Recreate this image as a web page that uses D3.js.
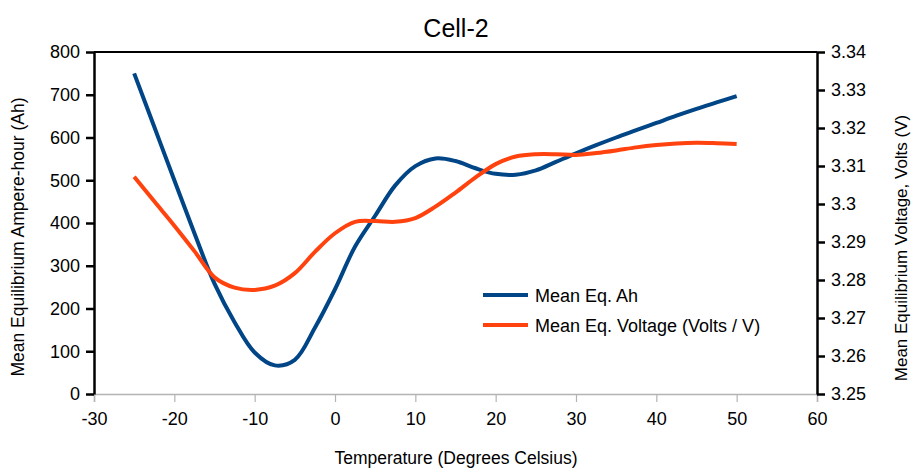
<!DOCTYPE html>
<html lang="en">
<head>
<meta charset="UTF-8">
<title>Cell-2</title>
<style>
  body { margin: 0; background: #fff; }
  svg { display: block; font-family: "Liberation Sans", Arial, sans-serif; }
</style>
</head>
<body>
<svg id="chart" width="912" height="469"></svg>
<script src="https://cdnjs.cloudflare.com/ajax/libs/d3/7.8.5/d3.min.js"></script>
<script>
// temperatures (deg C) and the two series
const temps  = [-25, -22.5, -20, -17.5, -15, -12.5, -10, -7.5, -5, -2.5, 0, 2.5, 5, 7.5, 10, 12.5,
                15, 17.5, 20, 22.5, 25, 27.5, 30, 32.5, 35, 37.5, 40, 42.5, 45, 47.5, 50];
const meanAh = [750, 625, 500, 376, 258, 168, 97, 67, 80, 155, 245, 345, 417, 488, 533, 551,
                545, 528, 515, 513, 523, 543, 563, 582, 600, 617, 634, 651, 667, 682, 697];
const meanV  = [3.3072, 3.3007, 3.2943, 3.2876, 3.2807, 3.2780, 3.2774, 3.2785, 3.2818, 3.2874,
                3.2923, 3.2953, 3.2955, 3.2953, 3.2963, 3.2993, 3.3030, 3.3070, 3.3105, 3.3125,
                3.3131, 3.3131, 3.3129, 3.3134, 3.3141, 3.3149, 3.3155, 3.3159, 3.3161, 3.3160, 3.3158];
const xTicks  = [-30, -20, -10, 0, 10, 20, 30, 40, 50, 60];
const ahTicks = [0, 100, 200, 300, 400, 500, 600, 700, 800];
const vTicks  = [3.25, 3.26, 3.27, 3.28, 3.29, 3.3, 3.31, 3.32, 3.33, 3.34];
const seriesNames = ["Mean Eq. Ah", "Mean Eq. Voltage (Volts / V)"];
const colors = ["#004586", "#ff420e"];

const svg = d3.select("#chart");
const plotL = 94, plotR = 817, plotT = 52, plotB = 394;

const x = d3.scaleLinear().domain([-30, 60]).range([plotL, plotR]);
const yAh = d3.scaleLinear().domain([0, 800]).range([plotB, plotT]);
const yV = d3.scaleLinear().domain([3.25, 3.34]).range([plotB, plotT]);

// title
svg.append("text")
  .attr("x", 456).attr("y", 37)
  .attr("text-anchor", "middle")
  .style("font-size", "25px")
  .text("Cell-2");

// x axis (grey)
const xAxis = svg.append("g")
  .attr("transform", `translate(0,${plotB})`)
  .call(d3.axisBottom(x).tickValues(xTicks).tickSize(8).tickPadding(10).tickFormat(d => String(d)));
xAxis.select(".domain").attr("stroke", "#b3b3b3").attr("stroke-width", 1.5);
xAxis.selectAll(".tick line").attr("stroke", "#b3b3b3").attr("stroke-width", 1.2);
xAxis.selectAll("text").style("font-size", "18px").attr("fill", "#000");

// top frame line
svg.append("line")
  .attr("x1", plotL).attr("x2", plotR)
  .attr("y1", plotT).attr("y2", plotT)
  .attr("stroke", "#000").attr("stroke-width", 2);

// left axis
const yAxisL = svg.append("g")
  .attr("transform", `translate(${plotL},0)`)
  .call(d3.axisLeft(yAh).tickValues(ahTicks).tickSize(8).tickPadding(6).tickSizeOuter(0));
yAxisL.select(".domain").attr("stroke", "#000").attr("stroke-width", 2.5);
yAxisL.selectAll(".tick line").attr("stroke", "#000").attr("stroke-width", 2.5);
yAxisL.selectAll("text").style("font-size", "18px").attr("fill", "#000");

// right axis
const yAxisR = svg.append("g")
  .attr("transform", `translate(${plotR},0)`)
  .call(d3.axisRight(yV).tickValues(vTicks).tickSize(8).tickPadding(6).tickSizeOuter(0)
    .tickFormat(d => d3.format(".2f")(d).replace(/0$/, "")));
yAxisR.select(".domain").attr("stroke", "#000").attr("stroke-width", 2.5);
yAxisR.selectAll(".tick line").attr("stroke", "#000").attr("stroke-width", 2.5);
yAxisR.selectAll("text").style("font-size", "18px").attr("fill", "#000");

// axis titles
svg.append("text")
  .attr("transform", "translate(24,237) rotate(-90)")
  .attr("text-anchor", "middle")
  .style("font-size", "17.5px")
  .text("Mean Equilibrium Ampere-hour (Ah)");

svg.append("text")
  .attr("transform", "translate(907,248) rotate(-90)")
  .attr("text-anchor", "middle")
  .style("font-size", "17px")
  .text("Mean Equilibrium Voltage, Volts (V)");

svg.append("text")
  .attr("x", 456).attr("y", 464)
  .attr("text-anchor", "middle")
  .style("font-size", "17.5px")
  .text("Temperature (Degrees Celsius)");

// lines
const lineAh = d3.line().x((d, i) => x(temps[i])).y(d => yAh(d)).curve(d3.curveCatmullRom.alpha(0.5));
const lineV = d3.line().x((d, i) => x(temps[i])).y(d => yV(d)).curve(d3.curveCatmullRom.alpha(0.5));

svg.append("path").datum(meanAh)
  .attr("d", lineAh).attr("fill", "none")
  .attr("stroke", colors[0]).attr("stroke-width", 4);

svg.append("path").datum(meanV)
  .attr("d", lineV).attr("fill", "none")
  .attr("stroke", colors[1]).attr("stroke-width", 4);

// legend
const legend = svg.append("g").attr("transform", "translate(483,295)");
seriesNames.forEach((name, i) => {
  const g = legend.append("g").attr("transform", `translate(0,${i * 30})`);
  g.append("line").attr("x1", 0).attr("x2", 45).attr("y1", 0).attr("y2", 0)
    .attr("stroke", colors[i]).attr("stroke-width", 4);
  g.append("text").attr("x", 52).attr("y", 6.5)
    .style("font-size", "18px").text(name);
});
</script>
</body>
</html>
